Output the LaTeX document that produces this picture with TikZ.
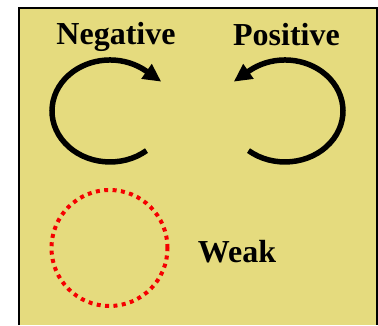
\documentclass[tikz,border=0pt]{standalone}
\usepackage{fontspec}
\setmainfont{Liberation Serif}
\usetikzlibrary{arrows.meta}
\definecolor{boxfill}{RGB}{229,219,126}
\definecolor{weakred}{RGB}{245,0,0}

\begin{document}
\begin{tikzpicture}[x=1pt,y=1pt,
  cyclearrow/.style={line width=5.5pt,-{Triangle[length=18pt,width=17pt]}},
  lbl/.style={anchor=base,font=\fontsize{32}{36}\selectfont\bfseries}]
\useasboundingbox (0,0) rectangle (378,325);
\fill[boxfill] (19,0) rectangle (377,317);
\draw[line width=2.4pt] (19,0) -- (19,317) -- (377,317) -- (377,0);
\draw[cyclearrow] (146.5,174.4) arc[start angle=-51,end angle=-309,x radius=58pt,y radius=51pt] -- ++(-35:18);
\draw[cyclearrow] (248.5,174.4) arc[start angle=231,end angle=489,x radius=58pt,y radius=51pt] -- ++(215:18);
\draw[weakred,line width=4pt,dash pattern=on 4pt off 4.4pt] (109.5,77) circle[radius=58pt];
\node[lbl] (neg) at (116,280) {Negative};
\node[lbl] (pos) at (286.5,279.5) {Positive};
\node[lbl] (weak) at (237,63) {Weak};
\end{tikzpicture}
\end{document}
